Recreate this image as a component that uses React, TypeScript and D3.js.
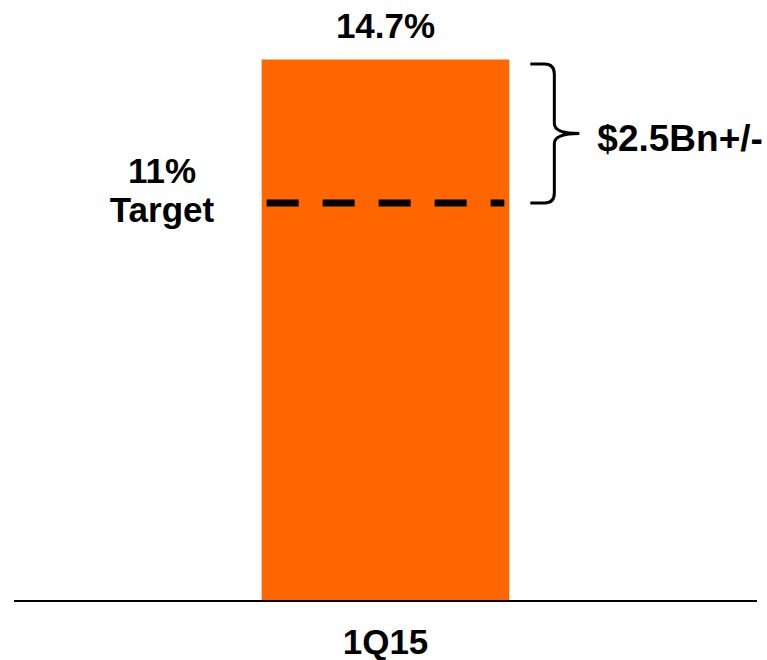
import React from "react";
import * as d3 from "d3";

const categories = ["1Q15"];
const values = [14.7];
const valueLabels = ["14.7%"];
const targetLinePosition = 10.8; // where the dashed target line is drawn
const targetLabels = ["11%", "Target"];
const rangeLabel = "$2.5Bn+/-";

const W = 767;
const H = 660;
const FONT = "'Liberation Sans', Arial, Helvetica, sans-serif";

export default function App() {
  const x = d3.scaleBand<string>().domain(categories).range([14, 757]).paddingInner(0).paddingOuter(1);
  const y = d3.scaleLinear().domain([0, 14.7]).range([600, 59.5]);

  const bw = x.bandwidth();
  const x0 = x(categories[0]) as number;
  const cx = x0 + bw / 2;
  const ty = y(targetLinePosition);
  const topY = y(values[0]) + 4.5;

  const bx = x0 + bw + 21; // brace left
  const bv = bx + 24; // brace vertical
  const tip = bx + 49;
  const mid = (topY + ty) / 2;
  const r = 10;
  const brace = [
    `M${bx},${topY}`,
    `L${bv - r},${topY}`,
    `Q${bv},${topY} ${bv},${topY + r}`,
    `L${bv},${mid - r}`,
    `Q${bv},${mid} ${tip},${mid}`,
    `Q${bv},${mid} ${bv},${mid + r}`,
    `L${bv},${ty - r}`,
    `Q${bv},${ty} ${bv - r},${ty}`,
    `L${bx},${ty}`,
  ].join(" ");

  return (
    <svg width={W} height={H} style={{ position: "absolute", left: 0, top: 0, background: "#fff" }}>
      {categories.map((c, i) => (
        <rect key={c} x={x(c)} y={y(values[i])} width={bw} height={y(0) - y(values[i])} fill="#FF6600" />
      ))}
      <line x1={14} x2={757} y1={y(0) + 1} y2={y(0) + 1} stroke="#000" strokeWidth={2} />
      <line x1={x0 + 5} x2={x0 + bw - 5} y1={ty} y2={ty} stroke="#000" strokeWidth={7} strokeDasharray="32 24" />
      <path d={brace} fill="none" stroke="#000" strokeWidth={3} />
      <g fontFamily={FONT} fontWeight="bold" fontSize={35} fill="#000">
        {categories.map((c, i) => (
          <text key={"v" + c} x={cx} y={y(values[i]) - 21.5} textAnchor="middle">{valueLabels[i]}</text>
        ))}
        {categories.map((c) => (
          <text key={"c" + c} x={(x(c) as number) + bw / 2} y={654} textAnchor="middle">{c}</text>
        ))}
        <text x={162} y={ty - 20} textAnchor="middle">{targetLabels[0]}</text>
        <text x={162} y={ty + 19} textAnchor="middle">{targetLabels[1]}</text>
        <text x={tip + 18} y={mid + 18} textAnchor="start" fontSize={37}>{rangeLabel}</text>
      </g>
    </svg>
  );
}
